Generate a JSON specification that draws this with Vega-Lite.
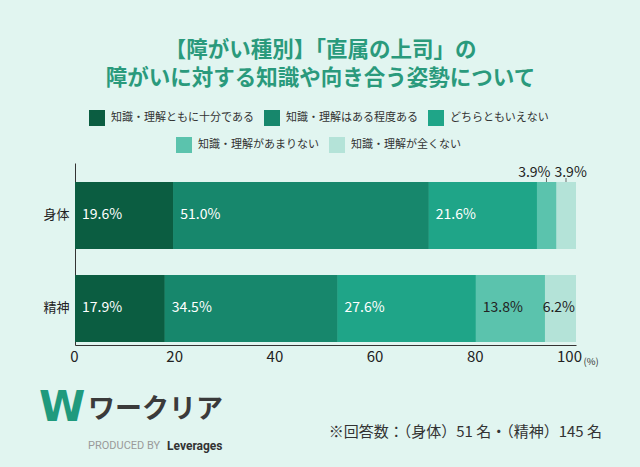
{
  "$schema": "https://vega.github.io/schema/vega-lite/v6.json",
  "autosize": {"type": "none"},
  "padding": {"left": 75, "top": 163, "right": 64, "bottom": 122},
  "width": 501,
  "height": 182,
  "background": "#e1f5f0",
  "config": {
    "font": "Noto Sans CJK JP",
    "view": {"stroke": null}
  },
  "title": {
    "text": ["【障がい種別】「直属の上司」の", "障がいに対する知識や向き合う姿勢について"],
    "fontSize": 21.5,
    "fontWeight": "bold",
    "color": "#2a9a7c",
    "lineHeight": 28,
    "anchor": "middle",
    "frame": "group",
    "dx": -5,
    "offset": 21
  },
  "layer": [
    {
      "data": {"name": "main", "values": [
        {"group": "身体", "cat": "知識・理解ともに十分である", "order": 1, "value": 19.6},
        {"group": "身体", "cat": "知識・理解はある程度ある", "order": 2, "value": 51.0},
        {"group": "身体", "cat": "どちらともいえない", "order": 3, "value": 21.6},
        {"group": "身体", "cat": "知識・理解があまりない", "order": 4, "value": 3.9},
        {"group": "身体", "cat": "知識・理解が全くない", "order": 5, "value": 3.9},
        {"group": "精神", "cat": "知識・理解ともに十分である", "order": 1, "value": 17.9},
        {"group": "精神", "cat": "知識・理解はある程度ある", "order": 2, "value": 34.5},
        {"group": "精神", "cat": "どちらともいえない", "order": 3, "value": 27.6},
        {"group": "精神", "cat": "知識・理解があまりない", "order": 4, "value": 13.8},
        {"group": "精神", "cat": "知識・理解が全くない", "order": 5, "value": 6.2}
      ]},
      "transform": [
        {"stack": "value", "groupby": ["group"], "sort": [{"field": "order", "order": "ascending"}], "as": ["v0", "v1"]},
        {"calculate": "format(datum.value, '.1f') + '%'", "as": "label"}
      ],
      "layer": [
        {
          "mark": {"type": "bar"},
          "encoding": {
            "y": {"field": "group", "type": "nominal", "scale": {"domain": ["身体", "精神"], "paddingInner": 0.28, "paddingOuter": 0.118, "align": 0.86},
              "axis": {"title": null, "ticks": false, "labelFontSize": 13, "labelColor": "#222", "labelPadding": 6, "domainColor": "#333", "labelAngle": 0}},
            "x": {"field": "v0", "type": "quantitative", "scale": {"domain": [0, 100], "nice": false},
              "axis": {"values": [0, 20, 40, 60, 80, 100], "grid": false, "ticks": false, "labelFontSize": 15, "labelColor": "#222", "labelPadding": 4, "domainColor": "#333",
                "labelOffset": {"condition": {"test": "datum.value == 100", "value": -7}, "value": -1},
                "title": "(%)", "titleFontSize": 9.5, "titleFontWeight": "normal", "titleColor": "#333", "titleX": 508, "titleY": 16, "titleAlign": "left", "titleBaseline": "middle", "labelFlush": false}},
            "x2": {"field": "v1"},
            "color": {"field": "cat", "type": "nominal",
              "scale": {"domain": ["知識・理解ともに十分である", "知識・理解はある程度ある", "どちらともいえない", "知識・理解があまりない", "知識・理解が全くない"], "range": ["#0b5d41", "#17876c", "#1fa588", "#5bc3ad", "#b4e3d8"]},
              "legend": {"values": ["知識・理解ともに十分である", "知識・理解はある程度ある", "どちらともいえない"], "orient": "none", "direction": "horizontal", "legendX": 14, "legendY": -53, "title": null, "symbolType": "square", "symbolSize": 256, "symbolStrokeWidth": 0, "symbolOpacity": 1, "labelFontSize": 11, "labelColor": "#333", "labelOffset": 6, "columnPadding": 10, "labelLimit": 300, "padding": 0}}
          }
        },
        {
          "mark": {"type": "bar"},
          "encoding": {
            "y": {"field": "group", "type": "nominal"},
            "x": {"field": "v0", "type": "quantitative"},
            "x2": {"field": "v1"},
            "color": {"field": "cat", "type": "nominal",
              "scale": {"domain": ["知識・理解ともに十分である", "知識・理解はある程度ある", "どちらともいえない", "知識・理解があまりない", "知識・理解が全くない"], "range": ["#0b5d41", "#17876c", "#1fa588", "#5bc3ad", "#b4e3d8"]},
              "legend": {"values": ["知識・理解があまりない", "知識・理解が全くない"], "orient": "none", "direction": "horizontal", "legendX": 101, "legendY": -26, "title": null, "symbolType": "square", "symbolSize": 256, "symbolStrokeWidth": 0, "symbolOpacity": 1, "labelFontSize": 11, "labelColor": "#333", "labelOffset": 6, "columnPadding": 10, "labelLimit": 300, "padding": 0}}
          }
        },
        {
          "transform": [{"filter": "!(datum.group == '身体' && datum.order >= 4) && !(datum.group == '精神' && datum.order == 5)"}],
          "mark": {"type": "text", "align": "left", "baseline": "middle", "dx": 7, "fontSize": 14},
          "encoding": {
            "y": {"field": "group", "type": "nominal"},
            "x": {"field": "v0", "type": "quantitative"},
            "text": {"field": "label"},
            "color": {"condition": {"test": "datum.order >= 4", "value": "#222"}, "value": "#ffffff"}
          }
        },
        {
          "transform": [{"filter": "datum.group == '精神' && datum.order == 5"}],
          "mark": {"type": "text", "align": "right", "baseline": "middle", "dx": -1, "fontSize": 14, "color": "#222"},
          "encoding": {
            "y": {"field": "group", "type": "nominal"},
            "x": {"field": "v1", "type": "quantitative"},
            "text": {"field": "label"}
          }
        },
        {
          "transform": [{"filter": "datum.group == '身体' && datum.order == 4"}],
          "mark": {"type": "text", "align": "right", "baseline": "middle", "dx": -6, "dy": -42, "fontSize": 14, "color": "#222"},
          "encoding": {
            "y": {"field": "group", "type": "nominal"},
            "x": {"field": "v1", "type": "quantitative"},
            "text": {"field": "label"}
          }
        },
        {
          "transform": [{"filter": "datum.group == '身体' && datum.order == 5"}],
          "mark": {"type": "text", "align": "left", "baseline": "middle", "dx": -2, "dy": -42, "fontSize": 14, "color": "#222"},
          "encoding": {
            "y": {"field": "group", "type": "nominal"},
            "x": {"field": "v0", "type": "quantitative"},
            "text": {"field": "label"}
          }
        },
        {
          "transform": [{"filter": "datum.group == '身体' && datum.order >= 4"}],
          "mark": {"type": "tick", "orient": "vertical", "size": 4, "thickness": 1, "color": "#333", "xOffset": -10, "yOffset": -35.5},
          "encoding": {
            "y": {"field": "group", "type": "nominal"},
            "x": {"field": "v1", "type": "quantitative"}
          }
        }
      ],
      "resolve": {"scale": {"color": "independent"}}
    },
    {
      "data": {"values": [{"t": "※回答数：（身体）51 名・（精神）145 名"}]},
      "mark": {"type": "text", "align": "right", "baseline": "middle", "dx": 26, "dy": 123.5, "fontSize": 15, "color": "#333"},
      "encoding": {
        "x": {"datum": 100, "type": "quantitative"},
        "y": {"datum": "精神", "type": "nominal"},
        "text": {"field": "t"}
      }
    },
    {
      "data": {"values": [{"t": "ワークリア"}]},
      "mark": {"type": "text", "align": "left", "baseline": "middle", "dx": 13, "dy": 101.5, "fontSize": 27, "fontWeight": "bold", "color": "#3a3a3a"},
      "encoding": {
        "x": {"datum": 0, "type": "quantitative"},
        "y": {"datum": "精神", "type": "nominal"},
        "text": {"field": "t"}
      }
    },
    {
      "data": {"values": [{"t": "W"}]},
      "mark": {"type": "text", "align": "left", "baseline": "middle", "dx": -36, "dy": 100, "fontSize": 42, "fontWeight": "bold", "font": "DejaVu Sans", "color": "#1f9a7d"},
      "encoding": {
        "x": {"datum": 0, "type": "quantitative"},
        "y": {"datum": "精神", "type": "nominal"},
        "text": {"field": "t"}
      }
    },
    {
      "data": {"values": [{"t": "PRODUCED BY"}]},
      "mark": {"type": "text", "align": "left", "baseline": "middle", "dx": 13, "dy": 137.5, "fontSize": 11, "font": "Roboto", "color": "#9a9a9a"},
      "encoding": {
        "x": {"datum": 0, "type": "quantitative"},
        "y": {"datum": "精神", "type": "nominal"},
        "text": {"field": "t"}
      }
    },
    {
      "data": {"values": [{"t": "Leverages"}]},
      "mark": {"type": "text", "align": "left", "baseline": "middle", "dx": 92, "dy": 137.5, "fontSize": 12, "fontWeight": "bold", "font": "Roboto", "color": "#333"},
      "encoding": {
        "x": {"datum": 0, "type": "quantitative"},
        "y": {"datum": "精神", "type": "nominal"},
        "text": {"field": "t"}
      }
    }
  ],
  "resolve": {"scale": {"color": "independent"}}
}
